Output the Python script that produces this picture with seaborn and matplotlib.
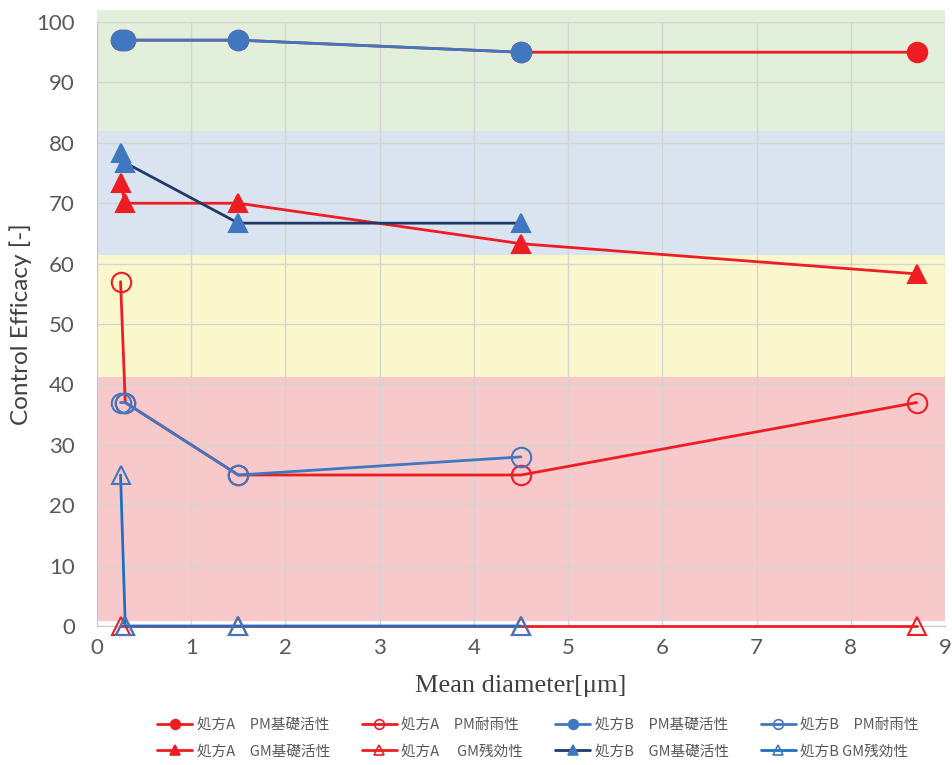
import pandas as pd
import seaborn as sns
import matplotlib.pyplot as plt
from matplotlib.lines import Line2D

# mean diameter [um] of each test
x_ab = [0.25, 0.3, 1.5, 4.5, 8.7]
x_b = [0.25, 0.3, 1.5, 4.5]

# control efficacy [-]
a_pm_base = [97, 97, 97, 95, 95]
a_pm_rain = [57, 37, 25, 25, 37]
b_pm_base = [97, 97, 97, 95]
b_pm_rain = [37, 37, 25, 28]
a_gm_base = [73.3, 70, 70, 63.3, 58.3]
a_gm_resid = [0, 0, 0, 0, 0]
b_gm_base = [78.3, 76.7, 66.7, 66.7]
b_gm_resid = [25, 0, 0, 0]

labels = ['処方A　PM基礎活性', '処方A　PM耐雨性', '処方B　PM基礎活性', '処方B　PM耐雨性',
          '処方A　GM基礎活性', '処方A　 GM残効性', '処方B　GM基礎活性', '処方B GM残効性']

# efficacy bands (bottom, top)
bands = [(0.8, 41.2), (41.2, 61.5), (61.5, 82), (82, 102)]
band_colors = ['#F8C9CA', '#FBF7CC', '#DAE4F0', '#E2EFDA']

red = '#EE1D23'
blue = '#3F78C1'
navy = '#1F3A68'
blue2 = '#1F6FC0'

sns.set_style('white')
plt.rcParams['font.family'] = ['Lato', 'DejaVu Sans']

fig = plt.figure(figsize=(9.52, 7.65), dpi=100)
ax = fig.add_axes([0.1019, 0.1817, 0.8907, 0.7895])

for (lo, hi), c in zip(bands, band_colors):
    ax.axhspan(lo, hi, color=c, zorder=0, lw=0, clip_on=False)

# (x, y, line color, marker color, marker, filled, label idx)
series = [
    (x_ab, a_pm_base, red, red, 'o', True, 0),
    (x_ab, a_pm_rain, red, red, 'o', False, 1),
    (x_ab, a_gm_base, red, red, '^', True, 4),
    (x_ab, a_gm_resid, red, red, '^', False, 5),
    (x_b, b_pm_base, blue, blue, 'o', True, 2),
    (x_b, b_pm_rain, blue, blue, 'o', False, 3),
    (x_b, b_gm_base, navy, blue, '^', True, 6),
    (x_b, b_gm_resid, blue2, blue, '^', False, 7),
]

handles = {}
for xs, ys, lc, mc, m, filled, i in series:
    df = pd.DataFrame({'d': xs, 'e': ys})
    ms = 14 if m == 'o' else 13
    sns.lineplot(data=df, x='d', y='e', ax=ax, color=lc, estimator=None,
                 marker=m, markersize=ms, markeredgecolor=mc,
                 markerfacecolor=mc if filled else 'none',
                 markeredgewidth=1.5, linewidth=2, clip_on=False, zorder=3)
    handles[i] = Line2D([], [], color=lc, marker=m, markersize=7,
                        markeredgecolor=mc, markerfacecolor=mc if filled else 'none',
                        markeredgewidth=1.2, linewidth=2)

ax.set_xlim(0, 9)
ax.set_ylim(0, 100)
ax.set_xticks(range(0, 10))
ax.set_yticks(range(0, 101, 10))
ax.grid(True, color='#D4D4D4', linewidth=1)
ax.set_axisbelow(True)
for s in ['top', 'right']:
    ax.spines[s].set_visible(False)
for s in ['left', 'bottom']:
    ax.spines[s].set_color('#C8C8C8')
ax.tick_params(length=0, labelsize=16, labelcolor='#595959')
ax.tick_params(axis='y', pad=16)
ax.tick_params(axis='x', pad=9)

ax.set_xlabel('Mean diameter[μm]', fontsize=19, color='#404040',
              family=['Liberation Serif', 'DejaVu Serif'], labelpad=12)
ax.set_ylabel('Control Efficacy [-]', fontsize=17.5, color='#404040', labelpad=3)

order = [0, 4, 1, 5, 2, 6, 3, 7]
fig.legend([handles[i] for i in order], [labels[i] for i in order],
           loc='center', bbox_to_anchor=(0.565, 0.035), ncol=4, frameon=False,
           prop={'family': ['Noto Sans CJK JP', 'DejaVu Sans'], 'size': 10.5},
           labelcolor='#595959', handlelength=2.4, handletextpad=0.3,
           columnspacing=2.2, labelspacing=0.85)

plt.savefig('out.png', dpi=100)
